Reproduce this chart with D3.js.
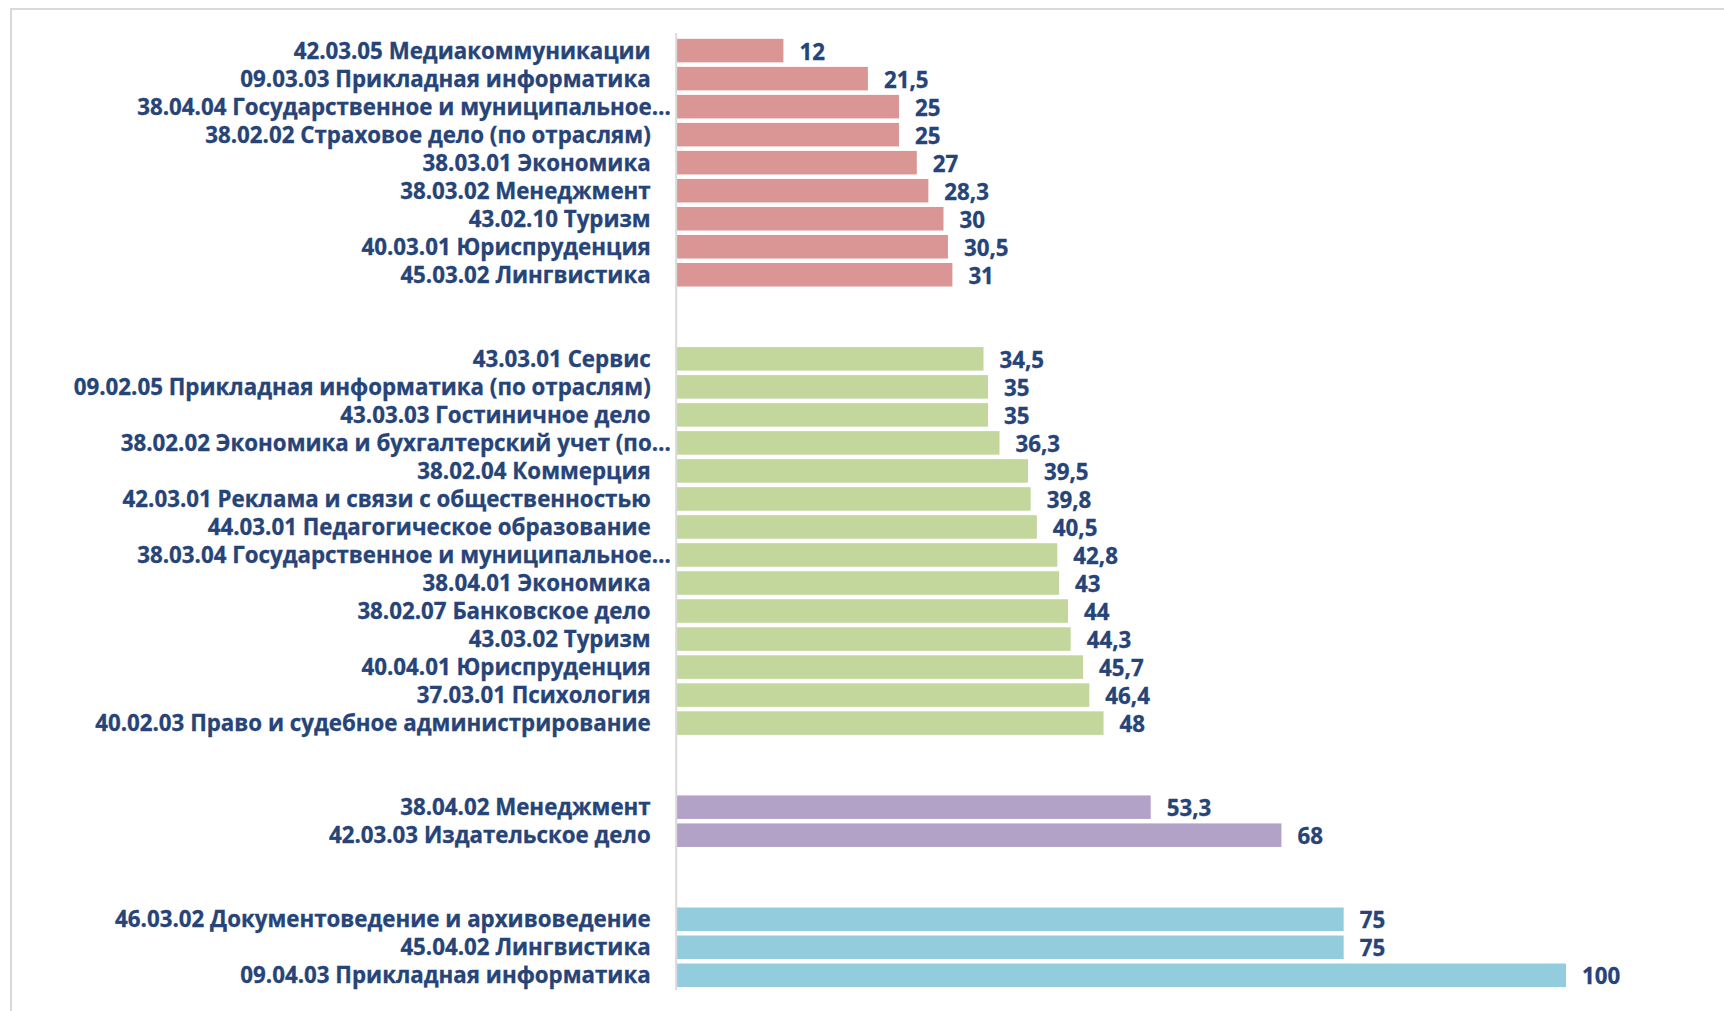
<!DOCTYPE html>
<html><head><meta charset="utf-8">
<script src="https://cdn.jsdelivr.net/npm/d3@7"></script>
<style>html,body{margin:0;padding:0;background:#fff;overflow:hidden}</style>
</head><body>
<svg id="chart" width="1724" height="1011"></svg>
<script>
const categories = [
  "42.03.05 Медиакоммуникации",
  "09.03.03 Прикладная информатика",
  "38.04.04 Государственное и муниципальное…",
  "38.02.02 Страховое дело (по отраслям)",
  "38.03.01 Экономика",
  "38.03.02 Менеджмент",
  "43.02.10 Туризм",
  "40.03.01 Юриспруденция",
  "45.03.02 Лингвистика",
  "43.03.01 Сервис",
  "09.02.05 Прикладная информатика (по отраслям)",
  "43.03.03 Гостиничное дело",
  "38.02.02 Экономика и бухгалтерский учет (по…",
  "38.02.04 Коммерция",
  "42.03.01 Реклама и связи с общественностью",
  "44.03.01 Педагогическое образование",
  "38.03.04 Государственное и муниципальное…",
  "38.04.01 Экономика",
  "38.02.07 Банковское дело",
  "43.03.02 Туризм",
  "40.04.01 Юриспруденция",
  "37.03.01 Психология",
  "40.02.03 Право и судебное администрирование",
  "38.04.02 Менеджмент",
  "42.03.03 Издательское дело",
  "46.03.02 Документоведение и архивоведение",
  "45.04.02 Лингвистика",
  "09.04.03 Прикладная информатика"
];
const values = [12,21.5,25,25,27,28.3,30,30.5,31,
  34.5,35,35,36.3,39.5,39.8,40.5,42.8,43,44,44.3,45.7,46.4,48,
  53.3,68,
  75,75,100];
const groups = [0,0,0,0,0,0,0,0,0,
  1,1,1,1,1,1,1,1,1,1,1,1,1,1,
  2,2,
  3,3,3];
const groupColors = ["#D99694","#C3D69B","#B3A2C7","#93CDDD"];
const xDomain = [0, 100];

const svg = d3.select("#chart");
const textColor = "#264478";
const fontFamily = "'Open Sans', Lato, sans-serif";
const fontSize = 22.3;

// frame
svg.append("rect").attr("x",11).attr("y",9).attr("width",1800).attr("height",1100)
  .attr("fill","none").attr("stroke","#D9D9D9").attr("stroke-width",2);

// row keys with two blank rows between groups
const rows = [];
categories.forEach((c,i)=>{
  if(i>0 && groups[i]!==groups[i-1]){ rows.push("gap"+i+"a"); rows.push("gap"+i+"b"); }
  rows.push(c);
});

const x = d3.scaleLinear().domain(xDomain).range([676.7, 1566]);
const y = d3.scaleBand().domain(rows).range([36.6, 989.3]).paddingInner(0.16).paddingOuter(0.08);

const fmt = d3.formatLocale({decimal:",",thousands:" ",grouping:[3],currency:["",""]}).format("~f");

const data = categories.map((c,i)=>({c, v:values[i], g:groups[i]}));

// measure ellipsis width (truncated labels overflow past the label edge)
const probe = svg.append("text").attr("font-family",fontFamily).attr("font-weight","bold")
  .attr("font-size",fontSize).text("…");
const ellW = probe.node().getComputedTextLength();
probe.remove();

svg.append("g").selectAll("rect").data(data).join("rect")
  .attr("x", x(0)).attr("y", d=>y(d.c))
  .attr("width", d=>x(d.v)-x(0)).attr("height", y.bandwidth())
  .attr("fill", d=>groupColors[d.g]);

// axis line
svg.append("line").attr("x1",x(0)-0.5).attr("x2",x(0)-0.5).attr("y1",33).attr("y2",990)
  .attr("stroke","#D9D9D9").attr("stroke-width",2);

svg.append("g").selectAll("text").data(data).join("text")
  .attr("x", d=>x(0)-26 + (d.c.endsWith("…") ? ellW+1 : 0))
  .attr("y", d=>y(d.c)+y.bandwidth()/2-0.5)
  .attr("text-anchor","end").attr("dominant-baseline","central")
  .attr("font-family",fontFamily).attr("font-weight","bold").attr("font-size",fontSize)
  .attr("fill",textColor).attr("stroke",textColor).attr("stroke-width",0.3)
  .text(d=>d.c);

svg.append("g").selectAll("text").data(data).join("text")
  .attr("x", d=>x(d.v)+16).attr("y", d=>y(d.c)+y.bandwidth()/2+0.5)
  .attr("text-anchor","start").attr("dominant-baseline","central")
  .attr("font-family",fontFamily).attr("font-weight","bold").attr("font-size",fontSize)
  .attr("fill",textColor).attr("stroke",textColor).attr("stroke-width",0.3)
  .text(d=>fmt(d.v));
</script>
</body></html>
